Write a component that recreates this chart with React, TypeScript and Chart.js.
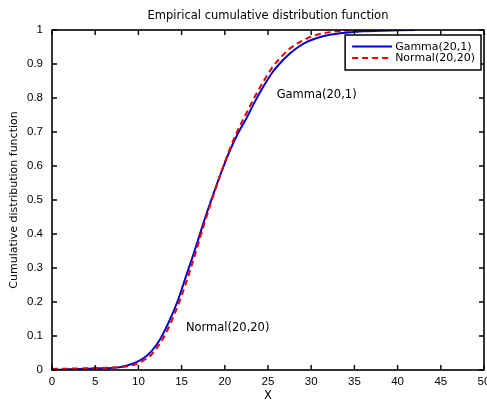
import React, { useEffect, useRef } from "react";
import { Chart, registerables } from "chart.js";

Chart.register(...registerables);

const TITLE = "Empirical cumulative distribution function";
const X_LABEL = "X";
const Y_LABEL = "Cumulative distribution function";
const SERIES_NAMES = ["Gamma(20,1)", "Normal(20,20)"];

const gammaX = [0, 2, 4, 6, 7.5, 8.5, 9.5, 10.5, 11.5, 12.5, 13.5, 14.5, 15.5, 16.5, 17.5, 18.5, 19.5, 20.5, 21.5, 22.5, 23.5, 24.5, 25.5, 26.5, 27.5, 28.5, 29.5, 30.5, 32, 34, 36, 38, 40, 42];
const gammaY = [0, 0.002, 0.004, 0.005, 0.007, 0.012, 0.02, 0.033, 0.055, 0.09, 0.14, 0.2, 0.275, 0.35, 0.43, 0.505, 0.575, 0.64, 0.695, 0.74, 0.79, 0.835, 0.875, 0.905, 0.93, 0.95, 0.965, 0.975, 0.985, 0.992, 0.996, 0.998, 0.999, 1.0];

const normalX = [0, 2, 4, 6, 7.5, 8.5, 9.5, 10.5, 11.5, 12.5, 13.5, 14.5, 15.5, 16.5, 17.5, 18.5, 19.5, 20.5, 21.5, 22.5, 23.5, 24.5, 25.5, 26.5, 27.5, 28.5, 29.5, 30.5, 32, 34, 36, 38, 40];
const normalY = [0.003, 0.004, 0.005, 0.006, 0.008, 0.01, 0.015, 0.027, 0.045, 0.078, 0.125, 0.185, 0.255, 0.335, 0.42, 0.5, 0.575, 0.645, 0.705, 0.755, 0.805, 0.85, 0.89, 0.92, 0.945, 0.962, 0.975, 0.985, 0.993, 0.998, 1.0, 1.0, 1.0];

const xTicks = [0, 5, 10, 15, 20, 25, 30, 35, 40, 45, 50];
const xTickLabels = ["0", "5", "10", "15", "20", "25", "30", "35", "40", "45", "50"];
const yTicks = [0, 0.1, 0.2, 0.3, 0.4, 0.5, 0.6, 0.7, 0.8, 0.9, 1];
const yTickLabels = ["0", "0.1", "0.2", "0.3", "0.4", "0.5", "0.6", "0.7", "0.8", "0.9", "1"];

// text annotations placed at data coordinates (baseline-left)
const annotationTexts = ["Gamma(20,1)", "Normal(20,20)"];
const annotationX = [26.0, 15.5];
const annotationY = [0.8, 0.116];

const BLUE = "#0000d2";
const RED = "#e60000";
const TEXT_FONT = "'DejaVu Sans', 'Liberation Sans', Arial, sans-serif";
const TICK_FONT = "'Liberation Sans', Arial, sans-serif";

const overlayPlugin = {
  id: "matlabOverlay",
  afterDatasetsDraw(chart: any) {
    const { ctx, chartArea: a } = chart;
    const xs = chart.scales.x;
    const ys = chart.scales.y;
    ctx.save();

    // axes box
    ctx.strokeStyle = "#000";
    ctx.lineWidth = 1.6;
    ctx.strokeRect(a.left, a.top, a.right - a.left, a.bottom - a.top);

    // inward ticks
    const L = 5;
    ctx.lineWidth = 1.4;
    ctx.beginPath();
    xTicks.forEach((v) => {
      const px = xs.getPixelForValue(v);
      ctx.moveTo(px, a.bottom);
      ctx.lineTo(px, a.bottom - L);
      ctx.moveTo(px, a.top);
      ctx.lineTo(px, a.top + L);
    });
    yTicks.forEach((v) => {
      const py = ys.getPixelForValue(v);
      ctx.moveTo(a.left, py);
      ctx.lineTo(a.left + L, py);
      ctx.moveTo(a.right, py);
      ctx.lineTo(a.right - L, py);
    });
    ctx.stroke();

    // annotations
    ctx.fillStyle = "#000";
    ctx.font = `11.5px ${TEXT_FONT}`;
    ctx.textAlign = "left";
    ctx.textBaseline = "alphabetic";
    annotationTexts.forEach((t, i) => {
      ctx.fillText(t, xs.getPixelForValue(annotationX[i]), ys.getPixelForValue(annotationY[i]));
    });

    // title
    ctx.textAlign = "center";
    ctx.fillText(TITLE, (a.left + a.right) / 2, 18.5);

    // legend
    const boxRight = a.right - 3;
    const boxTop = a.top + 5;
    ctx.font = `11px ${TEXT_FONT}`;
    const textW = Math.max(...SERIES_NAMES.map((n) => ctx.measureText(n).width));
    const sample = 40;
    const boxW = 7 + sample + 3 + textW + 6;
    const boxH = 35;
    const boxLeft = boxRight - boxW;
    ctx.fillStyle = "#fff";
    ctx.fillRect(boxLeft, boxTop, boxW, boxH);
    ctx.strokeStyle = "#000";
    ctx.lineWidth = 1.5;
    ctx.strokeRect(boxLeft, boxTop, boxW, boxH);
    const colors = [BLUE, RED];
    const dashes = [[], [6, 4]];
    SERIES_NAMES.forEach((n, i) => {
      const ly = boxTop + 11.5 + i * 11.5;
      ctx.strokeStyle = colors[i];
      ctx.lineWidth = 2;
      ctx.setLineDash(dashes[i]);
      ctx.beginPath();
      ctx.moveTo(boxLeft + 7, ly);
      ctx.lineTo(boxLeft + 7 + sample, ly);
      ctx.stroke();
      ctx.setLineDash([]);
      ctx.fillStyle = "#000";
      ctx.textAlign = "left";
      ctx.textBaseline = "middle";
      ctx.fillText(n, boxLeft + 7 + sample + 3, ly + 0.5);
    });

    ctx.restore();
  },
};

export default function App() {
  const ref = useRef<HTMLCanvasElement | null>(null);

  useEffect(() => {
    if (!ref.current) return;
    const chart = new Chart(ref.current, {
      type: "line",
      data: {
        datasets: [
          {
            label: SERIES_NAMES[1],
            data: normalX.map((x, i) => ({ x, y: normalY[i] })),
            borderColor: RED,
            borderWidth: 2,
            borderDash: [6, 4],
            pointRadius: 0,
            fill: false,
            cubicInterpolationMode: "monotone",
            order: 0,
          },
          {
            label: SERIES_NAMES[0],
            data: gammaX.map((x, i) => ({ x, y: gammaY[i] })),
            borderColor: BLUE,
            borderWidth: 2,
            pointRadius: 0,
            fill: false,
            cubicInterpolationMode: "monotone",
            order: 1,
          },
        ],
      },
      options: {
        animation: false,
        responsive: false,
        maintainAspectRatio: false,
        layout: { padding: { top: 30, right: 3, left: 0, bottom: 0 } },
        plugins: {
          legend: { display: false },
          title: { display: false },
          tooltip: { enabled: false },
        },
        scales: {
          x: {
            type: "linear",
            min: 0,
            max: 50,
            grid: { display: false, drawTicks: false },
            border: { display: false },
            afterBuildTicks: (s: any) => {
              s.ticks = xTicks.map((v) => ({ value: v }));
            },
            afterFit: (s: any) => {
              s.height = 33;
              s.paddingLeft = 0;
              s.paddingRight = 0;
            },
            ticks: {
              autoSkip: false,
              maxRotation: 0,
              padding: 5,
              color: "#000",
              font: { family: TICK_FONT, size: 11.5 },
              callback: (_v: any, i: number) => xTickLabels[i],
            },
            title: {
              display: true,
              text: X_LABEL,
              color: "#000",
              padding: 0,
              font: { family: TEXT_FONT, size: 11.5 },
            },
          },
          y: {
            type: "linear",
            min: 0,
            max: 1,
            grid: { display: false, drawTicks: false },
            border: { display: false },
            afterBuildTicks: (s: any) => {
              s.ticks = yTicks.map((v) => ({ value: v }));
            },
            afterFit: (s: any) => {
              s.width = 52;
              s.paddingTop = 0;
              s.paddingBottom = 0;
            },
            ticks: {
              autoSkip: false,
              padding: 9,
              color: "#000",
              font: { family: TICK_FONT, size: 11.5 },
              callback: (_v: any, i: number) => yTickLabels[i],
            },
            title: {
              display: true,
              text: Y_LABEL,
              color: "#000",
              padding: 8,
              font: { family: TEXT_FONT, size: 11 },
            },
          },
        },
      },
      plugins: [overlayPlugin],
    } as any);
    return () => chart.destroy();
  }, []);

  return (
    <div style={{ position: "fixed", left: 0, top: 0, width: 487, height: 403, background: "#fff" }}>
      <canvas ref={ref} width={487} height={403} style={{ display: "block" }} />
    </div>
  );
}
